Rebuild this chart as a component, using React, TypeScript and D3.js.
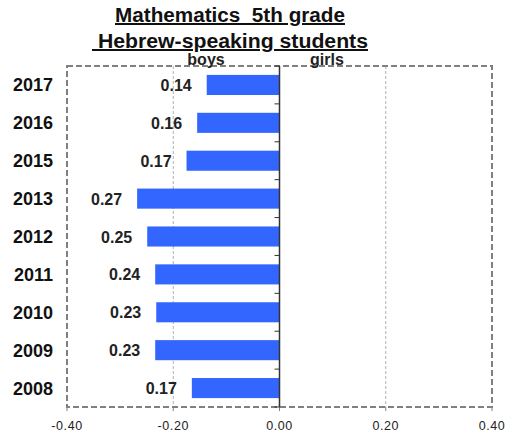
import React from "react";
import * as d3 from "d3";

const years = ["2017", "2016", "2015", "2013", "2012", "2011", "2010", "2009", "2008"];
const boysValues = [-0.137, -0.155, -0.175, -0.268, -0.249, -0.234, -0.232, -0.234, -0.165];
const valueLabels = ["0.14", "0.16", "0.17", "0.27", "0.25", "0.24", "0.23", "0.23", "0.17"];
const xTicks = [-0.4, -0.2, 0, 0.2, 0.4];
const titleLines = ["Mathematics  5th grade", " Hebrew-speaking students"];
const titleWidths = [230, 276];

export default function App() {
  const W = 506, H = 432;
  const left = 67, right = 492, top = 66, bottom = 407;
  const x = d3.scaleLinear().domain([-0.4, 0.4]).range([left, right]);
  const y = d3.scaleBand<string>().domain(years).range([top, bottom]).paddingInner(0.47).paddingOuter(0.235);
  const yb = d3.scaleBand<string>().domain(years).range([top, bottom]);
  const font = "Arial, 'Liberation Sans', sans-serif";
  const tcx = 230;
  return (
    <svg width={W} height={H} style={{ position: "absolute", left: 0, top: 0 }} fontFamily={font}>
      <rect width={W} height={H} fill="#fff" />
      {titleLines.map((t, i) => (
        <text key={t} x={tcx} y={22 + i * 26} textAnchor="middle" fontWeight="bold" fontSize={20} fill="#111"
          textDecoration="underline" textLength={titleWidths[i]} lengthAdjust="spacingAndGlyphs"
          style={{ whiteSpace: "pre" }}>{t}</text>
      ))}
      {/* gridlines */}
      {xTicks.filter(v => v !== 0 && Math.abs(v) < 0.4).map(v => (
        <line key={v} x1={x(v)} x2={x(v)} y1={top} y2={bottom} stroke="#b0b0b0" strokeWidth={1} strokeDasharray="3,2" />
      ))}
      {/* border */}
      <rect x={left} y={top} width={right - left} height={bottom - top} fill="none" stroke="#808080" strokeWidth={2} strokeDasharray="6,3" />
      {/* bottom ticks */}
      {xTicks.map(v => (
        <line key={"t" + v} x1={x(v)} x2={x(v)} y1={bottom} y2={bottom + 4} stroke="#808080" strokeWidth={1} />
      ))}
      {/* bars */}
      {years.map((yr, i) => (
        <rect key={yr} x={x(boysValues[i])} y={y(yr)!} width={x(0) - x(boysValues[i])} height={y.bandwidth()} fill="#3366ff" />
      ))}
      {/* value labels */}
      {years.map((yr, i) => (
        <text key={"v" + yr} x={x(boysValues[i]) - 15} y={y(yr)! + y.bandwidth() / 2 + 6} textAnchor="end" fontWeight="bold" fontSize={16} fill="#222">{valueLabels[i]}</text>
      ))}
      {/* zero axis */}
      <line x1={x(0)} x2={x(0)} y1={top} y2={bottom} stroke="#333" strokeWidth={1.5} />
      {years.map(yr => (
        <line key={"z" + yr} x1={x(0) - 5} x2={x(0)} y1={yb(yr)!} y2={yb(yr)!} stroke="#333" strokeWidth={1} />
      ))}
      <line x1={x(0) - 5} x2={x(0)} y1={bottom} y2={bottom} stroke="#333" strokeWidth={1} />
      {/* year labels */}
      {years.map(yr => (
        <text key={"y" + yr} x={53} y={y(yr)! + y.bandwidth() / 2 + 6.5} textAnchor="end" fontWeight="bold" fontSize={18} fill="#111">{yr}</text>
      ))}
      {/* boys / girls */}
      <text x={206} y={65} textAnchor="middle" fontWeight="bold" fontSize={16} fill="#222">boys</text>
      <text x={327} y={65} textAnchor="middle" fontWeight="bold" fontSize={16} fill="#222">girls</text>
      {/* x tick labels */}
      {xTicks.map(v => (
        <text key={"l" + v} x={x(v)} y={430} textAnchor="middle" fontSize={12.5} letterSpacing={0.6} fill="#222">{d3.format(".2f")(v).replace("−", "-")}</text>
      ))}
    </svg>
  );
}
